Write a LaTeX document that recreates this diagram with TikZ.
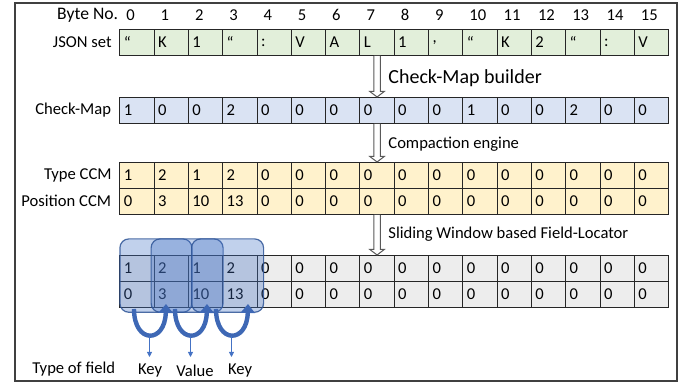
\documentclass[tikz,border=0pt]{standalone}
\usepackage{fontspec}
\setmainfont{Carlito}
\usetikzlibrary{arrows.meta,calc}
\definecolor{cgreen}{HTML}{E2EFDA}
\definecolor{cblue}{HTML}{DAE3F3}
\definecolor{cyellow}{HTML}{FFF2CC}
\definecolor{cgray}{HTML}{EDEDED}
\definecolor{winfill}{HTML}{4472C4}
\definecolor{winedge}{HTML}{2F5597}
\definecolor{arrblue}{HTML}{3E68B5}
\definecolor{thinblue}{HTML}{4472C4}
\tikzset{
  cell/.style={draw=black!85, line width=0.5pt, minimum width=17.15pt, minimum height=13pt,
    inner xsep=2pt, inner ysep=0pt, text width=13.15pt, align=left, anchor=north west},
  rowlab/.style={anchor=east, inner sep=0pt},
  bytelab/.style={anchor=west, inner sep=0pt},
  proclab/.style={anchor=west, inner sep=0pt},
  harrow/.style={draw=black!65, line width=0.5pt, fill=white},
  win/.style={draw=winedge, draw opacity=0.85, line width=0.6pt, fill=winfill, fill opacity=0.33,
    rounded corners=4.5pt, minimum width=36pt, minimum height=36.7pt, anchor=north west, inner sep=0pt},
  curv/.style={draw=arrblue, line width=2.2pt, -{Triangle[length=4.5pt,width=7pt]}},
  thinarr/.style={draw=thinblue, line width=0.4pt, -{Triangle[length=2.5pt,width=2.5pt]}},
  frame/.style={draw=black!75, line width=0.6pt}
}
\newcommand\hollowarr[2]{%
  \draw[harrow] let \p1=(#1.south), \p2=(#2.north) in
   (\x1-1.65pt,\y1) -- (\x1-1.65pt,\y2+2.75pt) -- (\x1-3.6pt,\y2+2.75pt) -- (\x1,\y2)
   -- (\x1+3.6pt,\y2+2.75pt) -- (\x1+1.65pt,\y2+2.75pt) -- (\x1+1.65pt,\y1);}
\begin{document}
\begin{tikzpicture}[x=0.5pt,y=-0.5pt, font=\fontsize{8.3}{10}\selectfont]
\useasboundingbox (0,0) rectangle (686,383);
\draw[frame] (15,3) rectangle (677,381);

% labels on the left
\node[rowlab, font=\fontsize{8.8}{10}\selectfont] (lbyte) at (118.5,15) {Byte No.};
\node[rowlab] (ljson) at (112,42) {JSON set};
\node[rowlab] (lcm) at (111.5,110) {Check-Map};
\node[rowlab] (ltype) at (112,175) {Type CCM};
\node[rowlab] (lpos) at (111.5,201) {Position CCM};
\node[anchor=west, inner sep=0pt] (ltf) at (32,369) {Type of field};

% byte numbers
\foreach \i in {0,...,15} {
  \node[bytelab] (b\i) at ({126+34.3*\i},15) {\i};
}
% JSON set
\foreach \v [count=\i from 0] in {“,K,1,“,:,V,A,L,1,{,},“,K,2,“,:,V} {
  \node[cell, fill=cgreen] (j\i) at ({119.3+34.3*\i},29) {\v};
}
% Check-Map
\foreach \v [count=\i from 0] in {1,0,0,2,0,0,0,0,0,0,1,0,0,2,0,0} {
  \node[cell, fill=cblue] (m\i) at ({119.3+34.3*\i},97) {\v};
}
% Type CCM and Position CCM
\foreach \v [count=\i from 0] in {1,2,1,2,0,0,0,0,0,0,0,0,0,0,0,0} {
  \node[cell, fill=cyellow] (t\i) at ({119.3+34.3*\i},162) {\v};
}
\foreach \v [count=\i from 0] in {0,3,10,13,0,0,0,0,0,0,0,0,0,0,0,0} {
  \node[cell, fill=cyellow] (p\i) at ({119.3+34.3*\i},188) {\v};
}
% bottom rows
\foreach \v [count=\i from 0] in {1,2,1,2,0,0,0,0,0,0,0,0,0,0,0,0} {
  \node[cell, fill=cgray] (u\i) at ({119.3+34.3*\i},255) {\v};
}
\foreach \v [count=\i from 0] in {0,3,10,13,0,0,0,0,0,0,0,0,0,0,0,0} {
  \node[cell, fill=cgray] (v\i) at ({119.3+34.3*\i},281) {\v};
}

% process arrows
\hollowarr{j7}{m7}
\hollowarr{m7}{t7}
\hollowarr{p7}{u7}
\node[proclab, font=\fontsize{10}{12}\selectfont] (pl1) at (388,78) {Check-Map builder};
\node[proclab] (pl2) at (388,144) {Compaction engine};
\node[proclab] (pl3) at (388,234) {Sliding Window based Field-Locator};

% sliding windows
\node[win] (w1) at (119.3,238.3) {};
\node[win] (w2) at (150.5,238.3) {};
\node[win] (w3) at (191,238.3) {};

% curved arrows
\coordinate (c1s) at (134,309);
\coordinate (c1e) at (166,304);
\coordinate (c2s) at (175,309);
\coordinate (c2e) at (207,304);
\coordinate (c3s) at (216,309);
\coordinate (c3e) at (248,304);
\draw[curv] (c1s) .. controls (134,344) and (165,344) .. (c1e);
\draw[curv] (c2s) .. controls (175,344) and (206,344) .. (c2e);
\draw[curv] (c3s) .. controls (216,344) and (247,344) .. (c3e);

% field types
\node[inner sep=0pt] (k1) at (150,371) {Key};
\node[inner sep=0pt] (k2) at (195,371) {Value};
\node[inner sep=0pt] (k3) at (240,371) {Key};
\coordinate (a1) at (149.5,336);
\coordinate (a2) at (190.5,336);
\coordinate (a3) at (231.5,336);
\draw[thinarr] (a1) -- (a1 |- 0,357);
\draw[thinarr] (a2) -- (a2 |- 0,357);
\draw[thinarr] (a3) -- (a3 |- 0,357);
\end{tikzpicture}
\end{document}
